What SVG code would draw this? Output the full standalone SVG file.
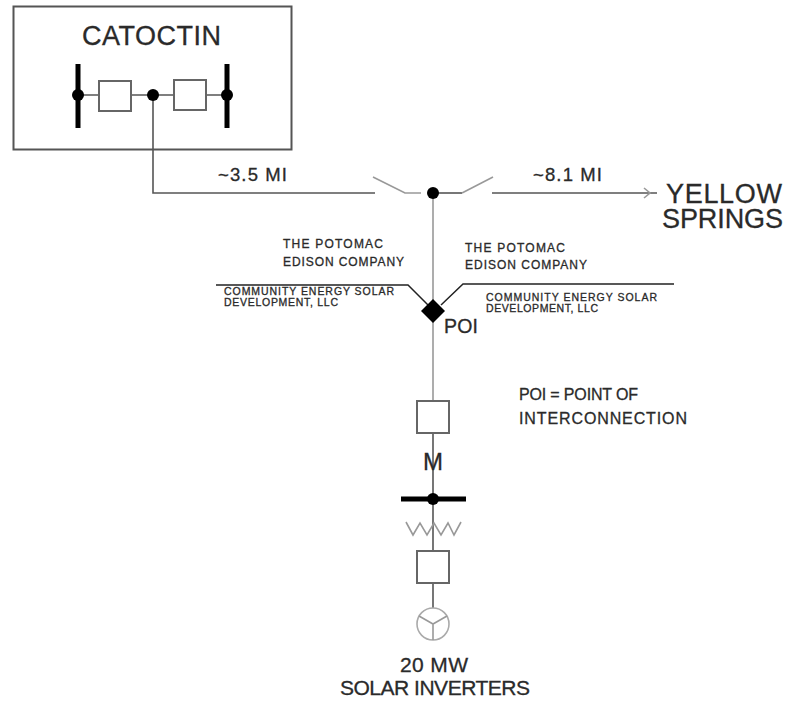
<svg xmlns="http://www.w3.org/2000/svg" width="787" height="704" viewBox="0 0 787 704">
<style>
text{font-family:"Liberation Sans",Arial,sans-serif;fill:#2a2a2a;stroke:#2a2a2a;stroke-width:.3}
.ln{fill:none;stroke:#555;stroke-width:1.6}
.lt{fill:none;stroke:#999;stroke-width:1.6}
.bar{fill:none;stroke:#000;stroke-width:5}
.dot{fill:#000}
.box{fill:#fff;stroke:#666;stroke-width:2}
.sm{font-size:12px}
.co{font-size:10.500px}
</style>
<rect width="787" height="704" fill="#fff"/>
<g id="connectors">
<path class="ln" d="M153 95V193H375"/>
<path class="lt" d="M373 177L405 193H421"/>
<path class="ln" d="M433 193H462"/>
<path class="lt" d="M462 193L493 177"/>
<path class="ln" d="M492 193H657"/>
<path class="lt" d="M644 188L650 193L644 198"/>
<path class="lt" d="M433 193V400"/>
<path class="ln" d="M433 433V551M433 583V609"/>
<path class="lt" d="M406 522L413 535L420 523L427 535L434 523L441 535L448 523L454 535L461 522"/>
<path class="ln" d="M78 95H99M131 95H174M206 95H227"/>
<path fill="none" stroke="#222" stroke-width="1.5" d="M216 285H408L428 305M441 305L463 284H674"/>
</g>
<g id="catoctin">
<rect x="13.500" y="6.500" width="278" height="143" fill="none" stroke="#555" stroke-width="2"/>
<text x="82" y="45" font-size="27" textLength="139">CATOCTIN</text>
<path class="bar" d="M78 64V128M227 64V128"/>
<circle class="dot" cx="78" cy="95" r="6"/>
<circle class="dot" cx="153" cy="95" r="6"/>
<circle class="dot" cx="227" cy="95" r="6"/>
<rect class="box" x="99" y="81" width="32" height="30"/>
<rect class="box" x="174" y="80" width="32" height="30"/>
</g>
<g id="switch">
<circle class="dot" cx="433" cy="193" r="6"/>
<text x="218" y="181" font-size="18.500" textLength="69">~3.5 MI</text>
<text x="533" y="181" font-size="18.500" textLength="69">~8.1 MI</text>
</g>
<g id="yellow-springs">
<text x="666" y="203" font-size="27" textLength="116">YELLOW</text>
<text x="662" y="228" font-size="27" textLength="121">SPRINGS</text>
</g>
<g id="boundary-labels">
<text class="sm" x="283" y="248" textLength="100">THE POTOMAC</text>
<text class="sm" x="283" y="266" textLength="121">EDISON COMPANY</text>
<text class="sm" x="465" y="252" textLength="100">THE POTOMAC</text>
<text class="sm" x="465" y="269" textLength="122">EDISON COMPANY</text>
<text class="co" x="224" y="295" textLength="170">COMMUNITY ENERGY SOLAR</text>
<text class="co" x="224" y="306" textLength="114">DEVELOPMENT, LLC</text>
<text class="co" x="486" y="301" textLength="171">COMMUNITY ENERGY SOLAR</text>
<text class="co" x="486" y="312" textLength="112">DEVELOPMENT, LLC</text>
</g>
<g id="poi">
<path class="dot" d="M433 299L445 311L433 323L421 311Z"/>
<text x="444" y="333" font-size="19.500" textLength="34">POI</text>
</g>
<g id="poi-note">
<text x="519" y="400" font-size="16" textLength="119">POI = POINT OF</text>
<text x="519" y="424" font-size="16" textLength="168">INTERCONNECTION</text>
</g>
<g id="breaker-1"><rect class="box" x="417" y="401" width="32" height="32"/></g>
<g id="meter"><text x="433" y="470" font-size="24" text-anchor="middle">M</text></g>
<g id="bus">
<path class="bar" d="M401 499H466"/>
<circle class="dot" cx="433" cy="499" r="6"/>
</g>
<g id="breaker-2"><rect class="box" x="417" y="551" width="32" height="32"/></g>
<g id="inverter">
<circle cx="433" cy="624" r="16" fill="#fff" stroke="#aaa" stroke-width="1.600"/>
<path class="lt" d="M419 616L433 624L447 616M433 624V640"/>
</g>
<g id="solar-label">
<text x="400" y="672" font-size="21" textLength="68">20 MW</text>
<text x="340" y="695" font-size="21" textLength="190">SOLAR INVERTERS</text>
</g>
</svg>
